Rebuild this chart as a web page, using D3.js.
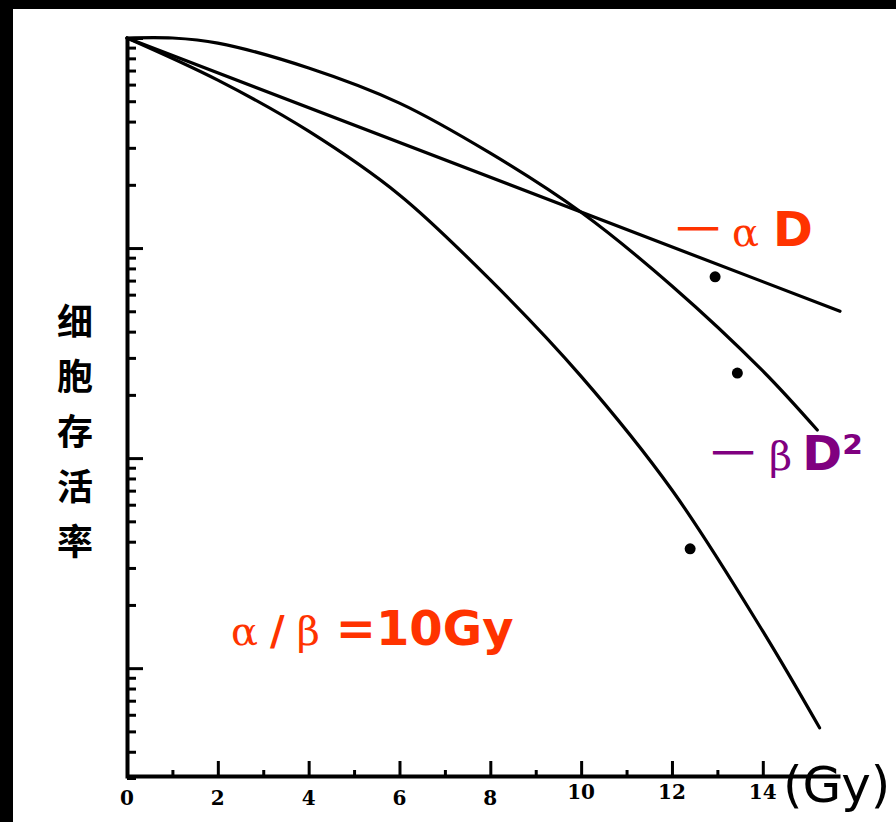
<!DOCTYPE html>
<html>
<head>
<meta charset="utf-8">
<script src="https://cdn.jsdelivr.net/npm/d3@7"></script>
<style>
  html, body { margin: 0; padding: 0; background: #fff; }
  svg { display: block; }
</style>
</head>
<body>
<div id="chart"></div>
<script>
// dose (Gy) and surviving fraction
var doseTicks = [0, 2, 4, 6, 8, 10, 12, 14];
var alphaDose = [0, 15.7];
var alphaSurv = [1, 0.05];
var betaDose = [0, 1, 2, 4, 6, 8, 10, 12, 14, 15.2];
var betaSurv = [1, 1, 0.946, 0.72, 0.49, 0.283, 0.148, 0.066, 0.026, 0.0136];
var lqDose = [0, 2, 4, 6, 8, 10, 12, 14, 15.25];
var lqSurv = [1, 0.63, 0.36, 0.179, 0.0705, 0.0245, 0.00705, 0.0015, 0.00052];
var pointDose = [12.95, 13.44, 12.4];
var pointSurv = [0.073, 0.0254, 0.0037];

var W = 896, H = 822;
var svg = d3.select("#chart").append("svg")
  .attr("width", W)
  .attr("height", H);

svg.append("rect").attr("width", W).attr("height", H).attr("fill", "#fff");
// black scan border
svg.append("rect").attr("x", 0).attr("y", 0).attr("width", W).attr("height", 9).attr("fill", "#000");
svg.append("rect").attr("x", 0).attr("y", 0).attr("width", 13).attr("height", H).attr("fill", "#000");

var x = d3.scaleLinear().domain([0, 15.7]).range([127, 840]);
var y = d3.scaleLog().domain([1, 0.0003]).range([38, 778]);

// y axis: log ticks, inside
var yTicks = [];
[1, 0.1, 0.01, 0.001].forEach(function (dec) {
  for (var m = 1; m <= 9; m++) {
    var v = m * dec / 10;
    if (v >= 0.0003) yTicks.push(v);
  }
});
yTicks.push(1);

var yAxis = svg.append("g")
  .attr("transform", "translate(127,0)")
  .call(d3.axisRight(y).tickValues(yTicks).tickFormat("").tickSizeOuter(0));
yAxis.select(".domain").attr("stroke-width", 4);
yAxis.selectAll(".tick line")
  .attr("stroke-width", 3)
  .attr("x2", function (d) {
    var l = Math.log10(d);
    return Math.abs(l - Math.round(l)) < 1e-6 ? 16 : 9;
  });

// x axis: ticks pointing up
var xAxis = svg.append("g")
  .attr("transform", "translate(0,776)")
  .call(d3.axisTop(x).tickValues(d3.range(0, 16, 1)).tickFormat("").tickSizeOuter(0));
xAxis.select(".domain").attr("stroke-width", 4);
xAxis.selectAll(".tick line")
  .attr("stroke-width", 3)
  .attr("y2", function (d) { return d % 2 === 0 ? -15 : -6; });
xAxis.selectAll(".tick").filter(function (d) { return d === 0 || d === 15; }).remove();

svg.append("g").selectAll("text")
  .data(doseTicks)
  .enter().append("text")
  .attr("x", function (d) { return x(d); })
  .attr("y", function (d) { return d >= 10 ? 799 : 805; })
  .attr("text-anchor", "middle")
  .attr("font-family", "DejaVu Serif")
  .attr("font-weight", "bold")
  .attr("font-size", 20)
  .text(function (d) { return d; });

// curves
var line = d3.line()
  .x(function (d) { return x(d[0]); })
  .y(function (d) { return y(d[1]); })
  .curve(d3.curveCatmullRom.alpha(0.5));

[[alphaDose, alphaSurv], [betaDose, betaSurv], [lqDose, lqSurv]].forEach(function (s) {
  svg.append("path")
    .datum(d3.zip(s[0], s[1]))
    .attr("fill", "none")
    .attr("stroke", "#000")
    .attr("stroke-width", 3.2)
    .attr("stroke-linecap", "round")
    .attr("d", line);
});

svg.append("g").selectAll("circle")
  .data(d3.zip(pointDose, pointSurv))
  .enter().append("circle")
  .attr("cx", function (d) { return x(d[0]); })
  .attr("cy", function (d) { return y(d[1]); })
  .attr("r", 5.5)
  .attr("fill", "#000");

// y label, vertical characters
var yLabel = ["细", "胞", "存", "活", "率"];
svg.append("g").selectAll("text")
  .data(yLabel)
  .enter().append("text")
  .attr("x", 75)
  .attr("y", function (d, i) { return 335 + i * 55; })
  .attr("text-anchor", "middle")
  .attr("font-family", "Noto Sans CJK SC")
  .attr("font-weight", "bold")
  .attr("font-size", 36)
  .attr("fill", "#000")
  .text(function (d) { return d; });

var red = "#ff3300", purple = "#800080";

var tA = svg.append("text").attr("x", 676).attr("y", 246).attr("fill", red).attr("font-size", 44);
tA.append("tspan").attr("font-family", "Noto Sans CJK SC").text("一");
tA.append("tspan").attr("dx", 12).attr("font-family", "DejaVu Serif").attr("font-size", 40).text("α");
tA.append("tspan").attr("dx", 14).attr("font-family", "DejaVu Sans").attr("font-weight", "bold").attr("font-size", 48).text("D");

var tB = svg.append("text").attr("x", 711).attr("y", 470).attr("fill", purple).attr("font-size", 44);
tB.append("tspan").attr("font-family", "Noto Sans CJK SC").text("一");
tB.append("tspan").attr("dx", 14).attr("font-family", "DejaVu Serif").attr("font-size", 40).text("β");
tB.append("tspan").attr("dx", 10).attr("font-family", "DejaVu Sans").attr("font-weight", "bold").attr("font-size", 48).text("D²");

var tC = svg.append("text").attr("x", 231).attr("y", 645).attr("fill", red);
tC.append("tspan").attr("font-family", "DejaVu Serif").attr("font-size", 40).text("α");
tC.append("tspan").attr("dx", 12).attr("font-family", "DejaVu Sans").attr("font-weight", "bold").attr("font-size", 40).text("/");
tC.append("tspan").attr("dx", 12).attr("font-family", "DejaVu Serif").attr("font-size", 40).text("β");
tC.append("tspan").attr("dx", 16).attr("font-family", "DejaVu Sans").attr("font-weight", "bold").attr("font-size", 48).text("=10Gy");

svg.append("text")
  .attr("x", 783).attr("y", 802)
  .attr("font-family", "DejaVu Sans")
  .attr("font-size", 50)
  .attr("fill", "#000")
  .text("(Gy)");
</script>
</body>
</html>
